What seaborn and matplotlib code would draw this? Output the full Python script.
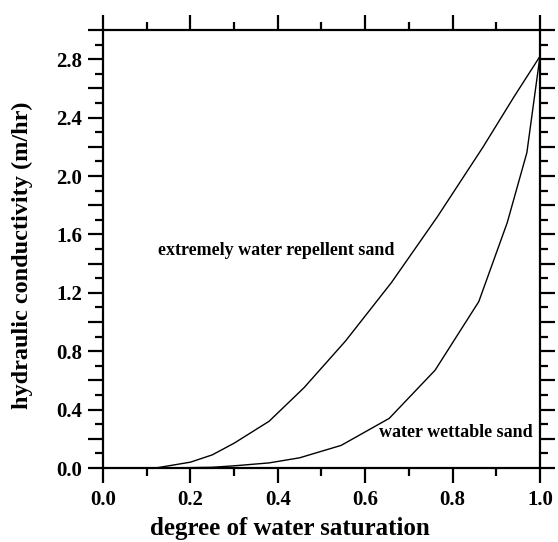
import numpy as np
import pandas as pd
import matplotlib
matplotlib.use("Agg")
import matplotlib.pyplot as plt
from matplotlib.ticker import MultipleLocator, FuncFormatter
import seaborn as sns

#%% Data
sat_repellent = [0.0, 0.12, 0.20, 0.25, 0.30, 0.38, 0.46, 0.555, 0.66, 0.765, 0.87, 0.94, 1.0]
k_repellent = [0.0, 0.0, 0.04, 0.09, 0.17, 0.32, 0.55, 0.87, 1.27, 1.72, 2.20, 2.54, 2.82]

sat_wettable = [0.0, 0.15, 0.25, 0.30, 0.38, 0.45, 0.545, 0.655, 0.76, 0.86, 0.925, 0.97, 1.0]
k_wettable = [0.0, 0.0, 0.005, 0.015, 0.035, 0.07, 0.155, 0.34, 0.67, 1.14, 1.68, 2.16, 2.82]

label_repellent = "extremely water repellent sand"
label_wettable = "water wettable sand"

df = pd.concat([
    pd.DataFrame({"sat": sat_repellent, "k": k_repellent, "sand": label_repellent}),
    pd.DataFrame({"sat": sat_wettable, "k": k_wettable, "sand": label_wettable}),
])

#%% Style
sns.set_style("ticks")
plt.rcParams["font.family"] = ["Liberation Serif", "DejaVu Serif"]
plt.rcParams["font.weight"] = "bold"
plt.rcParams["text.color"] = "black"
plt.rcParams["axes.labelcolor"] = "black"
plt.rcParams["xtick.color"] = "black"
plt.rcParams["ytick.color"] = "black"

fig = plt.figure(figsize=(5.58, 5.42), dpi=100)
ax = fig.add_axes([0.1846, 0.1365, 0.7831, 0.8081])

sns.lineplot(data=df, x="sat", y="k", hue="sand", units="sand", estimator=None,
             palette=["black", "black"], linewidth=1.0, legend=False, ax=ax,
             sort=False)

ax.set_xlim(0, 1)
ax.set_ylim(0, 3.0)

ax.xaxis.set_major_locator(MultipleLocator(0.2))
ax.xaxis.set_minor_locator(MultipleLocator(0.1))
ax.yaxis.set_major_locator(MultipleLocator(0.2))
ax.yaxis.set_minor_locator(MultipleLocator(0.1))

def ylab(v, pos):
    i = int(round(v * 10))
    if i % 4 == 0 and i < 30:
        return f"{v:.1f}"
    return ""

ax.yaxis.set_major_formatter(FuncFormatter(ylab))
ax.xaxis.set_major_formatter(FuncFormatter(lambda v, p: f"{v:.1f}"))

for s in ax.spines.values():
    s.set_visible(True)
    s.set_linewidth(1.6)
    s.set_color("black")

ax.tick_params(which="both", direction="out", top=True, right=True,
               width=1.6, color="black", labelcolor="black", labelsize=15)
ax.tick_params(which="major", length=11, pad=5)
ax.tick_params(which="minor", length=6)
ax.tick_params(axis="y", which="major", pad=4)

for lab in ax.get_xticklabels() + ax.get_yticklabels():
    lab.set_fontweight("bold")

ax.set_xlabel("degree of water saturation", fontsize=18, fontweight="bold",
              va="center", color="black")
ax.set_ylabel("hydraulic conductivity (m/hr)", fontsize=17.5, fontweight="bold",
              va="center", color="black")
ax.xaxis.set_label_coords(0.428, -0.137)
ax.yaxis.set_label_coords(-0.185, 0.486)

ax.text(0.396, 1.49, label_repellent, ha="center", va="center",
        fontsize=13, fontweight="bold", color="black")
ax.text(0.808, 0.24, label_wettable, ha="center", va="center",
        fontsize=13, fontweight="bold", color="black")

fig.savefig("out.png", dpi=100)
